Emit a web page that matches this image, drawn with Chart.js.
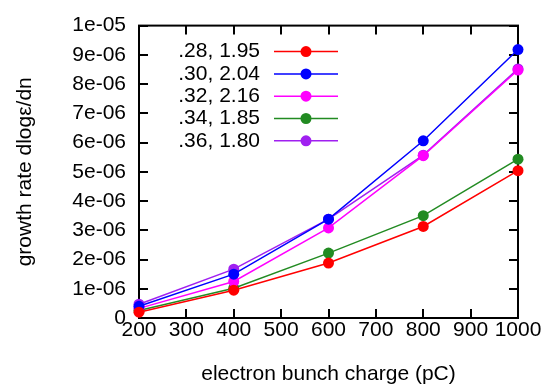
<!DOCTYPE html>
<html>
<head>
<meta charset="utf-8">
<script src="https://cdn.jsdelivr.net/npm/chart.js@4/dist/chart.umd.min.js"></script>
<style>
  html, body { margin: 0; padding: 0; background: #fff; }
  #wrap { width: 548px; height: 392px; }
</style>
</head>
<body>
<div id="wrap"><canvas id="chart1" width="548" height="392"></canvas></div>
<script>
(function(){
  'use strict';

  // bunch charge (pC)
  var charge = [200, 400, 600, 800, 1000];

  // growth rate per case
  var rate28 = [0.20e-6, 0.95e-6, 1.88e-6, 3.13e-6, 5.04e-6];
  var rate30 = [0.40e-6, 1.50e-6, 3.38e-6, 6.06e-6, 9.18e-6];
  var rate32 = [0.33e-6, 1.25e-6, 3.08e-6, 5.55e-6, 8.48e-6];
  var rate34 = [0.26e-6, 1.02e-6, 2.22e-6, 3.50e-6, 5.43e-6];
  var rate36 = [0.47e-6, 1.67e-6, 3.38e-6, 5.57e-6, 8.52e-6];

  var caseLabels = ['.28, 1.95', '.30, 2.04', '.32, 2.16', '.34, 1.85', '.36, 1.80'];
  var caseColors = ['#ff0000', '#0000ff', '#ff00ff', '#228b22', '#a020f0'];
  var series = [rate28, rate30, rate32, rate34, rate36];

  var FONT = { family: '"Liberation Sans", Arial, sans-serif', size: 21 };

  function fmtExp(v) {
    if (Math.abs(v) < 1e-12) return '0';
    return v.toExponential(0).replace(/e([+-])(\d)$/, 'e$10$2');
  }

  var datasets = [];
  for (var i = 0; i < series.length; i++) {
    datasets.push({
      label: caseLabels[i],
      data: charge.map(function(c, j) { return { x: c, y: series[i][j] }; }),
      borderColor: caseColors[i],
      backgroundColor: caseColors[i],
      pointBackgroundColor: caseColors[i],
      pointBorderWidth: 0,
      pointRadius: 5.5,
      borderWidth: 1.5,
      clip: false
    });
  }

  // border box with inward ticks
  var framePlugin = {
    id: 'frame',
    beforeDatasetsDraw: function(chart) {
      var ctx = chart.ctx, a = chart.chartArea;
      var xs = chart.scales.x, ys = chart.scales.y, tl = 9;
      ctx.save();
      ctx.strokeStyle = '#000';
      ctx.lineWidth = 2;
      ctx.beginPath();
      xs.ticks.forEach(function(t) {
        var px = Math.round(xs.getPixelForValue(t.value));
        ctx.moveTo(px, a.bottom); ctx.lineTo(px, a.bottom - tl);
        ctx.moveTo(px, a.top); ctx.lineTo(px, a.top + tl);
      });
      ys.ticks.forEach(function(t) {
        var py = Math.round(ys.getPixelForValue(t.value));
        ctx.moveTo(a.left, py); ctx.lineTo(a.left + tl, py);
        ctx.moveTo(a.right, py); ctx.lineTo(a.right - tl, py);
      });
      ctx.stroke();
      ctx.strokeRect(a.left, a.top, a.right - a.left, a.bottom - a.top);
      ctx.restore();
    }
  };

  // key in the upper left, text then sample
  var keyPlugin = {
    id: 'key',
    afterDatasetsDraw: function(chart) {
      var ctx = chart.ctx, a = chart.chartArea;
      var textRight = a.left + 121, lineL = a.left + 135, lineR = a.left + 199;
      var y0 = a.top + 26, dy = 22.3;
      ctx.save();
      ctx.font = FONT.size + 'px ' + FONT.family;
      ctx.textAlign = 'right';
      ctx.textBaseline = 'middle';
      chart.data.datasets.forEach(function(ds, k) {
        var y = y0 + k * dy;
        ctx.fillStyle = '#000';
        ctx.fillText(ds.label, textRight, y);
        ctx.strokeStyle = ds.borderColor;
        ctx.lineWidth = 1.5;
        ctx.beginPath();
        ctx.moveTo(lineL, y); ctx.lineTo(lineR, y);
        ctx.stroke();
        ctx.fillStyle = ds.borderColor;
        ctx.beginPath();
        ctx.arc((lineL + lineR) / 2, y, 5.5, 0, Math.PI * 2);
        ctx.fill();
      });
      ctx.restore();
    }
  };

  var c1 = document.getElementById('chart1');
  var chart1 = new Chart(c1, {
    type: 'line',
    data: { datasets: datasets },
    plugins: [framePlugin, keyPlugin],
    options: {
      responsive: false,
      animation: false,
      devicePixelRatio: 1,
      layout: { padding: { top: 14, right: 30, left: 0, bottom: 0 } },
      plugins: {
        legend: { display: false },
        tooltip: { enabled: false }
      },
      scales: {
        x: {
          type: 'linear',
          min: 200,
          max: 1000,
          afterFit: function(s) { s.height = 74; },
          grid: { display: false, drawTicks: false },
          border: { display: false },
          ticks: {
            stepSize: 100,
            autoSkip: false,
            maxRotation: 0,
            padding: 0,
            color: '#000',
            font: FONT,
            callback: function(v) { return String(v); }
          },
          title: {
            display: true,
            text: 'electron bunch charge (pC)',
            color: '#000',
            font: FONT,
            padding: { top: 0, bottom: 5 }
          }
        },
        y: {
          type: 'linear',
          min: 0,
          max: 1e-5,
          afterFit: function(s) { s.width = 139; },
          grid: { display: false, drawTicks: false },
          border: { display: false },
          ticks: {
            stepSize: 1e-6,
            padding: 13,
            color: '#000',
            font: FONT,
            callback: function(v) { return fmtExp(v); }
          },
          title: {
            display: true,
            text: 'growth rate dlogε/dn',
            color: '#000',
            font: FONT,
            padding: { top: 13, bottom: 0 }
          }
        }
      }
    }
  });

}());
</script>
</body>
</html>
